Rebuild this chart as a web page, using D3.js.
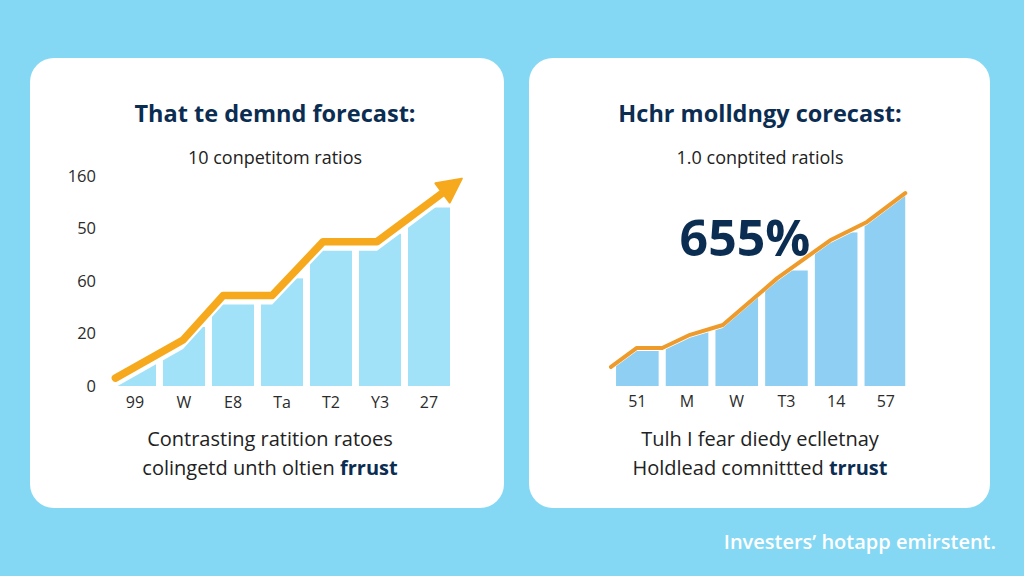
<!DOCTYPE html>
<html>
<head>
<meta charset="utf-8">
<script src="https://d3js.org/d3.v7.min.js"></script>
<style>
  body { margin: 0; padding: 0; background: #84d8f4; }
  text { font-family: "Open Sans", "DejaVu Sans", sans-serif; }
</style>
</head>
<body>
<svg width="1024" height="576"></svg>
<script>
// ---- data ----
const leftTitle = "That te demnd forecast:";
const leftSubtitle = "10 conpetitom ratios";
const leftCats = ["99", "W", "E8", "Ta", "T2", "Y3", "27"];
const leftBars = [20, 45, 64, 82, 104, 116, 136];
// line points: x in category units (0 = left edge of first band), y in axis units
const leftLineX = [0.1, 1.48, 2.3, 3.3, 4.34, 5.44, 7.17];
const leftLineY = [6, 35, 69, 69, 110, 110, 158];
const yTickVals = [0, 40, 80, 120, 160];
const yTickLabels = ["0", "20", "60", "50", "160"];
const leftNote1 = "Contrasting ratition ratoes";
const leftNote2a = "colingetd unth oltien ";
const leftNote2b = "frrust";

const rightTitle = "Hchr molldngy corecast:";
const rightSubtitle = "1.0 conptited ratiols";
const rightCats = ["51", "M", "W", "T3", "14", "57"];
const rightBars = [28, 41, 69, 88, 117, 146];
const rightLineX = [-0.03, 0.49, 1.0, 1.56, 2.22, 3.31, 4.38, 5.12, 5.89];
const rightLineY = [14.5, 29, 29, 39, 46.5, 82, 111, 125, 147];
const bigFigure = "655%";
const rightNote1 = "Tulh I fear diedy eclletnay";
const rightNote2a = "Holdlead comnittted ";
const rightNote2b = "trrust";

const footer = "Investers\u2019 hotapp emirstent.";

const navy = "#0c2d52";
const svg = d3.select("svg");

svg.append("rect").attr("width", 1024).attr("height", 576).attr("fill", "#84d8f4");

// cards
const cards = [
  { x: 30, y: 58, w: 474, h: 450 },
  { x: 529, y: 58, w: 461, h: 450 }
];
svg.selectAll("rect.card").data(cards).enter().append("rect")
  .attr("class", "card")
  .attr("x", d => d.x).attr("y", d => d.y)
  .attr("width", d => d.w).attr("height", d => d.h)
  .attr("rx", 24).attr("fill", "#ffffff");

const y = d3.scaleLinear().domain([0, 160]).range([386, 176]);

function drawPanel(opt) {
  const g = svg.append("g");
  const xb = d3.scaleBand().domain(opt.cats).range(opt.range)
    .paddingInner(0.143).paddingOuter(0.0715);
  const xl = d3.scaleLinear().domain([0, opt.cats.length]).range(opt.range);

  const pts = opt.lineX.map((u, i) => [xl(u), y(opt.lineY[i])]);

  // clip bars under the line
  const clipId = "clip-" + opt.id;
  g.append("clipPath").attr("id", clipId)
    .append("path")
    .attr("d", d3.area().x(d => d[0]).y0(y(0) + 2).y1(d => d[1] + opt.gap)(pts));

  g.append("g").attr("clip-path", `url(#${clipId})`)
    .selectAll("rect").data(opt.bars).enter().append("rect")
    .attr("x", (d, i) => xb(opt.cats[i]))
    .attr("y", d => y(d))
    .attr("width", xb.bandwidth())
    .attr("height", d => y(0) - y(d))
    .attr("fill", opt.barColor);

  // x axis labels
  const xa = g.append("g").attr("transform", `translate(0,${y(0)})`)
    .call(d3.axisBottom(xb).tickSize(0).tickPadding(opt.labelPad));
  xa.select(".domain").remove();
  xa.selectAll("text").attr("font-size", 16).attr("fill", "#2b2b2b")
    .attr("font-family", "'Open Sans', sans-serif");

  // line
  let linePts = pts;
  if (opt.arrow) {
    const a = pts[pts.length - 2], b = pts[pts.length - 1];
    const dx = b[0] - a[0], dy = b[1] - a[1], len = Math.hypot(dx, dy);
    const ux = dx / len, uy = dy / len;
    const hl = 24, hw = 12;
    const base = [b[0] - ux * hl, b[1] - uy * hl];
    linePts = pts.slice(0, -1).concat([[base[0] + ux * 4, base[1] + uy * 4]]);
    g.append("path")
      .attr("d", d3.line().curve(d3.curveLinear)(linePts))
      .attr("fill", "none").attr("stroke", opt.lineColor)
      .attr("stroke-width", opt.lineWidth).attr("stroke-linejoin", "round")
      .attr("stroke-linecap", "round");
    g.append("path")
      .attr("d", d3.line()([b, [base[0] - uy * hw, base[1] + ux * hw], [base[0] + uy * hw, base[1] - ux * hw]]) + "Z")
      .attr("fill", opt.lineColor).attr("stroke", opt.lineColor)
      .attr("stroke-width", 2).attr("stroke-linejoin", "round");
  } else {
    g.append("path")
      .attr("d", d3.line()(linePts))
      .attr("fill", "none").attr("stroke", opt.lineColor)
      .attr("stroke-width", opt.lineWidth).attr("stroke-linejoin", "round")
      .attr("stroke-linecap", "round");
  }

  // texts
  g.append("text").attr("x", opt.cx).attr("y", 122).attr("text-anchor", "middle")
    .attr("font-size", 23.5).attr("font-weight", 700).attr("fill", navy)
    .text(opt.title);
  g.append("text").attr("x", opt.cx).attr("y", 164).attr("text-anchor", "middle")
    .attr("font-size", 18).attr("fill", "#222")
    .text(opt.subtitle);
  g.append("text").attr("x", opt.noteX).attr("y", 446).attr("text-anchor", "middle")
    .attr("font-size", 20).attr("fill", "#222")
    .text(opt.note1);
  const t2 = g.append("text").attr("x", opt.noteX).attr("y", 475).attr("text-anchor", "middle")
    .attr("font-size", 20).attr("fill", "#222");
  t2.append("tspan").text(opt.note2a);
  t2.append("tspan").attr("font-weight", 700).attr("fill", navy).text(opt.note2b);
  return g;
}

drawPanel({
  id: "l", cats: leftCats, bars: leftBars, range: [110.5, 453.5],
  lineX: leftLineX, lineY: leftLineY, gap: 9, barColor: "#a2e2f8",
  lineColor: "#f6a91d", lineWidth: 7.5, arrow: true, labelPad: 11,
  cx: 275, noteX: 270, title: leftTitle, subtitle: leftSubtitle,
  note1: leftNote1, note2a: leftNote2a, note2b: leftNote2b
});

const ya = svg.append("g").attr("transform", "translate(96,0)")
  .call(d3.axisLeft(y).tickValues(yTickVals).tickFormat((d, i) => yTickLabels[i])
    .tickSize(0).tickPadding(0));
ya.select(".domain").remove();
ya.selectAll("text").attr("font-size", 16.5).attr("fill", "#2b2b2b")
  .attr("font-family", "'Open Sans', sans-serif");

const rp = drawPanel({
  id: "r", cats: rightCats, bars: rightBars, range: [612.5, 910.7],
  lineX: rightLineX, lineY: rightLineY, gap: 3, barColor: "#8ecff3",
  lineColor: "#ee9b2b", lineWidth: 4, arrow: false, labelPad: 10,
  cx: 760, noteX: 760, title: rightTitle, subtitle: rightSubtitle,
  note1: rightNote1, note2a: rightNote2a, note2b: rightNote2b
});

rp.append("text").attr("x", 745).attr("y", 256).attr("text-anchor", "middle")
  .attr("font-size", 50).attr("font-weight", 700).attr("fill", navy)
  .text(bigFigure);

svg.append("text").attr("x", 996).attr("y", 549).attr("text-anchor", "end")
  .attr("font-size", 20).attr("font-weight", 600).attr("fill", "#ffffff")
  .text(footer);
</script>
</body>
</html>
